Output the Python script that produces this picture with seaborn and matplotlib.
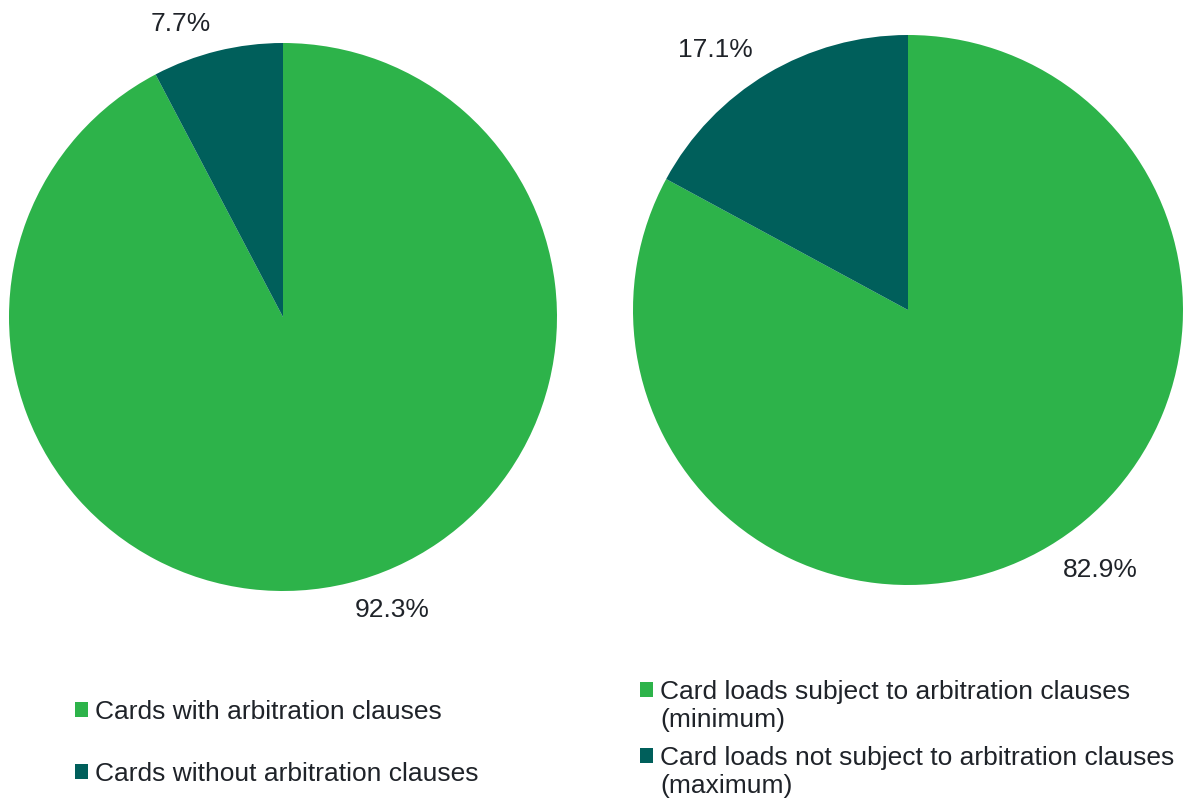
import matplotlib
matplotlib.use("Agg")
import matplotlib.pyplot as plt
from matplotlib.patches import Patch
import seaborn as sns

# ==========================================
# Data
# ==========================================

cards_labels = ["Cards with arbitration clauses", "Cards without arbitration clauses"]
cards_values = [92.3, 7.7]

loads_labels = [["Card loads subject to arbitration clauses", "(minimum)"],
                ["Card loads not subject to arbitration clauses", "(maximum)"]]
loads_values = [82.9, 17.1]

colors = ["#2db34a", "#005f5b"]
text_color = "#1f2329"

# ==========================================
# Figure
# ==========================================

sns.set_theme(style="white")
plt.rcParams["font.family"] = ["Liberation Sans", "DejaVu Sans"]

fig = plt.figure(figsize=(11.88, 8), dpi=100)

ax_left = fig.add_axes([9 / 1188, 209 / 800, 548 / 1188, 548 / 800])
ax_right = fig.add_axes([633 / 1188, 215 / 800, 550 / 1188, 550 / 800])

for ax, vals in [(ax_left, cards_values), (ax_right, loads_values)]:
    ax.pie(
        vals,
        labels=[f"{v:.1f}%" for v in vals],
        colors=colors,
        startangle=90,
        counterclock=False,
        labeldistance=1.1,
        wedgeprops={"linewidth": 0},
        textprops={"fontsize": 19, "color": text_color},
    )
    ax.set_xlim(-1, 1)
    ax.set_ylim(-1, 1)
    ax.set_aspect("equal")
    ax.axis("off")

# ==========================================
# Legends
# ==========================================

def add_legend(handles, labels, anchor, spacing):
    leg = fig.legend(
        handles, labels,
        loc="upper left",
        bbox_to_anchor=anchor,
        frameon=False,
        fontsize=19,
        handlelength=0.5,
        handleheight=0.5,
        handletextpad=0.27,
        labelspacing=spacing,
        borderpad=0,
        borderaxespad=0,
    )
    for t in leg.get_texts():
        t.set_color(text_color)
    return leg

patches = [Patch(facecolor=c, edgecolor="none") for c in colors]
blank = Patch(facecolor="none", edgecolor="none")

add_legend(patches, cards_labels, (75 / 1188, 1 - 700 / 800), 1.44)

# second legend: one block per entry so the square sits on the first line
for i, (p, lines) in enumerate(zip(patches, loads_labels)):
    top = [680, 746][i]
    add_legend([p, blank], lines, (640 / 1188, 1 - top / 800), 0.15)

fig.savefig("out.png", dpi=100)
